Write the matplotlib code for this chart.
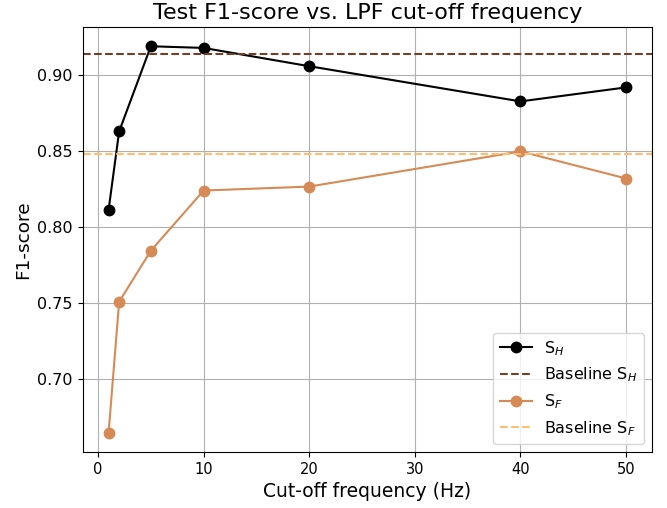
import matplotlib
matplotlib.use("Agg")
import matplotlib.pyplot as plt

freqs = [1, 2, 5, 10, 20, 40, 50]
s_h = [0.8112, 0.8627, 0.9186, 0.9175, 0.9055, 0.8824, 0.8916]
s_f = [0.6649, 0.7509, 0.7844, 0.8239, 0.8265, 0.8496, 0.8318]
baseline_h = 0.9134
baseline_f = 0.848

fig, ax = plt.subplots(figsize=(6.67, 5.08), dpi=100)
ax.plot(freqs, s_h, marker='o', markersize=7.5, color='black', label='S$_H$')
ax.axhline(baseline_h, color='#6e4228', linestyle='--', label='Baseline S$_H$')
ax.plot(freqs, s_f, marker='o', markersize=7.5, color='#d68a56', label='S$_F$')
ax.axhline(baseline_f, color='#fdbf6f', linestyle='--', label='Baseline S$_F$')
ax.set_title('Test F1-score vs. LPF cut-off frequency', fontsize=16)
ax.set_xlabel('Cut-off frequency (Hz)', fontsize=13.5)
ax.set_ylabel('F1-score', fontsize=13.3)
ax.tick_params(axis='x', labelsize=10.5)
ax.tick_params(axis='y', labelsize=11.5)
ax.grid(True)
ax.legend(loc='lower right', fontsize=11.5)
fig.subplots_adjust(left=0.124, right=0.9775, top=0.947, bottom=0.110)
fig.savefig('out.png')
